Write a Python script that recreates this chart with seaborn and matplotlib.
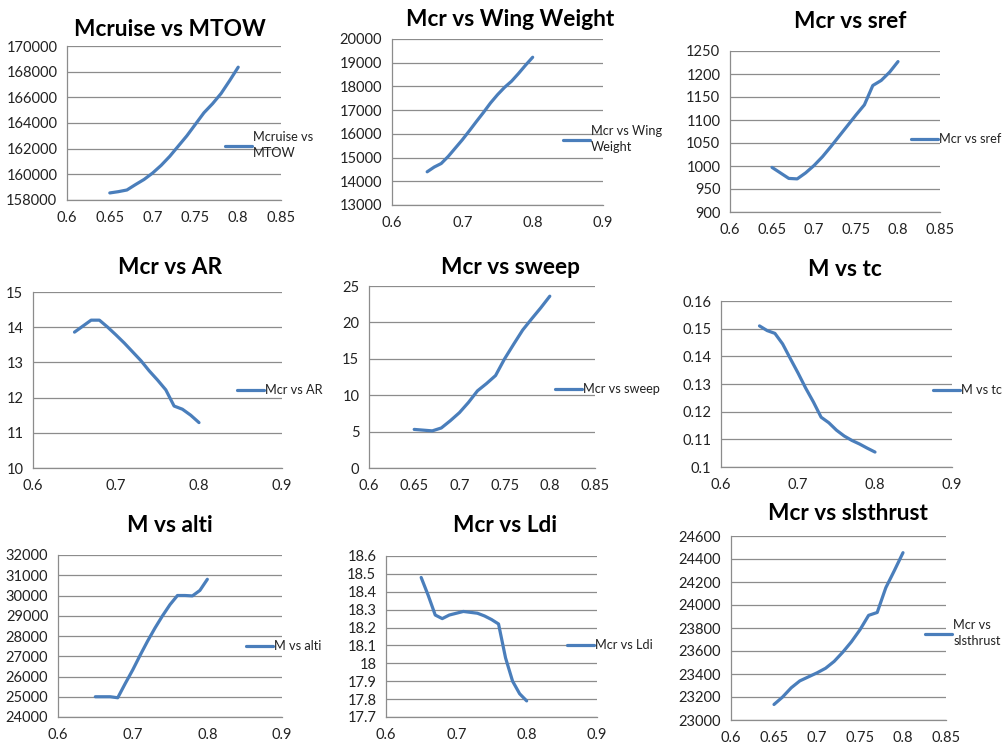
"""
Painel 3x3 de curvas de sensibilidade ao Mach de cruzeiro (estilo Excel).
"""

import matplotlib
matplotlib.use("Agg")
import matplotlib.pyplot as plt
import pandas as pd
import seaborn as sns

# Dados
mach = [0.65, 0.66, 0.67, 0.68, 0.69, 0.70, 0.71, 0.72,
        0.73, 0.74, 0.75, 0.76, 0.77, 0.78, 0.79, 0.80]

mtow = [158550, 158650, 158780, 159200, 159600, 160100, 160700, 161400,
        162200, 163000, 163900, 164800, 165500, 166300, 167300, 168350]
wing_weight = [14400, 14600, 14750, 15050, 15400, 15750, 16130, 16520,
               16900, 17300, 17650, 17960, 18220, 18550, 18900, 19230]
sref = [997, 985, 973, 972, 985, 1001, 1020, 1042,
        1065, 1088, 1111, 1133, 1175, 1186, 1204, 1227]
aspect_ratio = [13.86, 14.03, 14.2, 14.2, 14.0, 13.78, 13.55, 13.3,
                13.05, 12.76, 12.5, 12.22, 11.76, 11.67, 11.5, 11.29]
sweep = [5.3, 5.2, 5.1, 5.5, 6.5, 7.6, 9.0, 10.6,
         11.6, 12.7, 15.0, 17.0, 18.95, 20.5, 22.0, 23.6]
tc = [0.1510, 0.1493, 0.1483, 0.1445, 0.1392, 0.1340, 0.1285, 0.1235,
      0.1180, 0.1160, 0.1133, 0.1112, 0.1096, 0.1083, 0.1068, 0.1054]
alti = [25000, 25000, 25000, 24950, 25650, 26320, 27050, 27750,
        28400, 29000, 29550, 30000, 30000, 29980, 30250, 30800]
ldi = [18.48, 18.38, 18.27, 18.25, 18.27, 18.28, 18.29, 18.285,
       18.28, 18.265, 18.245, 18.22, 18.03, 17.90, 17.83, 17.79]
slsthrust = [23135, 23200, 23280, 23340, 23375, 23410, 23450, 23510,
             23590, 23680, 23785, 23910, 23935, 24150, 24300, 24455]

LINE_COLOR = "#4a7ebb"
GRID_COLOR = "#8c8c8c"
W, H = 1006, 745

# (titulo, legenda, y, ylim, yticks, xlim, xticks,
#  caixa do eixo [x0, y0, x1, y1] em px, centro do titulo, posicao da legenda)
panels = [
    ("Mcruise vs MTOW", "Mcruise vs\nMTOW", mtow,
     (158000, 170000), range(158000, 170001, 2000),
     (0.6, 0.85), [0.6, 0.65, 0.7, 0.75, 0.8, 0.85],
     (67, 46, 281, 200), (170, 30), (225, 145)),
    ("Mcr vs Wing Weight", "Mcr vs Wing\nWeight", wing_weight,
     (13000, 20000), range(13000, 20001, 1000),
     (0.6, 0.9), [0.6, 0.7, 0.8, 0.9],
     (392, 39, 603, 205), (510, 20), (563, 139)),
    ("Mcr vs sref", "Mcr vs sref", sref,
     (900, 1250), range(900, 1251, 50),
     (0.6, 0.85), [0.6, 0.65, 0.7, 0.75, 0.8, 0.85],
     (730, 51, 940, 212), (850, 21), (911, 139)),
    ("Mcr vs AR", "Mcr vs AR", aspect_ratio,
     (10, 15), range(10, 16),
     (0.6, 0.9), [0.6, 0.7, 0.8, 0.9],
     (33, 292, 282, 468), (170, 268), (237, 390)),
    ("Mcr vs sweep", "Mcr vs sweep", sweep,
     (0, 25), range(0, 26, 5),
     (0.6, 0.85), [0.6, 0.65, 0.7, 0.75, 0.8, 0.85],
     (369, 286, 595, 468), (510, 268), (555, 389)),
    ("M vs tc", "M vs tc", tc,
     (0.1, 0.16), [0.1, 0.11, 0.12, 0.13, 0.14, 0.15, 0.16],
     (0.6, 0.9), [0.6, 0.7, 0.8, 0.9],
     (721, 301, 952, 467), (845, 270), (933, 390)),
    ("M vs alti", "M vs alti", alti,
     (24000, 32000), range(24000, 32001, 1000),
     (0.6, 0.9), [0.6, 0.7, 0.8, 0.9],
     (58, 555, 282, 717), (170, 525), (246, 646)),
    ("Mcr vs Ldi", "Mcr vs Ldi", ldi,
     (17.7, 18.6), [17.7, 17.8, 17.9, 18, 18.1, 18.2, 18.3, 18.4, 18.5, 18.6],
     (0.6, 0.9), [0.6, 0.7, 0.8, 0.9],
     (386, 556, 597, 717), (505, 525), (567, 645)),
    ("Mcr vs slsthrust", "Mcr vs\nslsthrust", slsthrust,
     (23000, 24600), range(23000, 24601, 200),
     (0.6, 0.85), [0.6, 0.65, 0.7, 0.75, 0.8, 0.85],
     (731, 536, 946, 720), (848, 513), (925, 633)),
]


def fmt(v):
    s = f"{v:.2f}".rstrip("0").rstrip(".")
    return s


def draw_panel(fig, spec):
    (title, label, values, ylim, yticks, xlim, xticks,
     box, title_pos, leg_pos) = spec
    x0, y0, x1, y1 = box
    ax = fig.add_axes([x0 / W, 1 - y1 / H, (x1 - x0) / W, (y1 - y0) / H])

    df = pd.DataFrame({"mach": mach, "valor": values})
    sns.lineplot(data=df, x="mach", y="valor", ax=ax, color=LINE_COLOR,
                 linewidth=2.3, sort=False, estimator=None, label=label,
                 solid_capstyle="round", solid_joinstyle="round")

    ax.set_xlim(*xlim)
    ax.set_ylim(*ylim)
    ax.set_xticks(xticks)
    ax.set_xticklabels([fmt(t) for t in xticks])
    ax.set_yticks(list(yticks))
    ax.set_yticklabels([fmt(t) for t in yticks])
    ax.set_xlabel("")
    ax.set_ylabel("")
    ax.grid(axis="y", color=GRID_COLOR, linewidth=0.9)
    ax.grid(axis="x", visible=False)
    ax.set_axisbelow(True)
    for side in ("top", "right"):
        ax.spines[side].set_visible(False)
    for side in ("left", "bottom"):
        ax.spines[side].set_color(GRID_COLOR)
        ax.spines[side].set_linewidth(0.9)
    ax.tick_params(axis="both", direction="out", length=4, width=0.9,
                   color=GRID_COLOR, labelsize=10.5, labelcolor="#222222",
                   pad=3)
    ax.tick_params(axis="x", pad=4)

    leg = ax.legend(loc="center left",
                    bbox_to_anchor=(leg_pos[0] / W, 1 - leg_pos[1] / H),
                    bbox_transform=fig.transFigure, frameon=False, fontsize=9.2,
                    handlelength=2.1, handletextpad=0.1, borderpad=0,
                    borderaxespad=0, labelspacing=0.2)
    for t in leg.get_texts():
        t.set_linespacing(1.45)
        t.set_color("#222222")

    fig.text(title_pos[0] / W, 1 - title_pos[1] / H, title, ha="center",
             va="center", fontsize=16.3, fontweight="bold", color="black")
    return ax


def main():
    sns.set_style("white")
    plt.rcParams["font.family"] = ["Lato", "DejaVu Sans"]
    fig = plt.figure(figsize=(W / 100, H / 100), dpi=100)
    fig.patch.set_facecolor("white")
    for spec in panels:
        draw_panel(fig, spec)
    fig.savefig("out.png", dpi=100, facecolor="white")
    plt.close(fig)


if __name__ == "__main__":
    main()
